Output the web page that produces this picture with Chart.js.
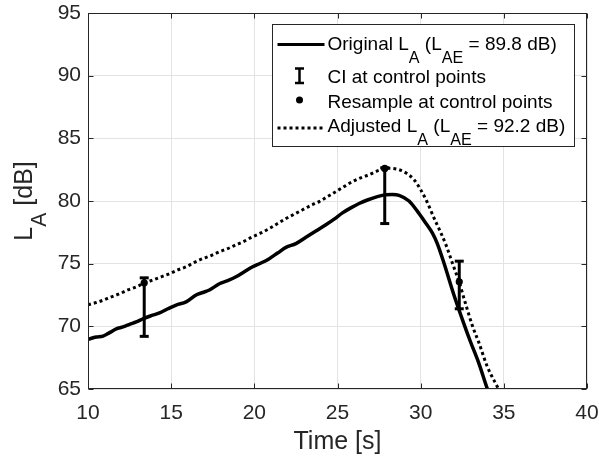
<!DOCTYPE html>
<html><head><meta charset="utf-8">
<script src="https://cdn.jsdelivr.net/npm/chart.js@4.4.1/dist/chart.umd.min.js"></script>
<style>html,body{margin:0;padding:0;background:#fff}#c{display:block}</style>
</head><body>
<canvas id="c" width="599" height="461"></canvas>
<script>
// ---- data ----
const origT = [10.0,10.5,10.9,11.3,11.7,12.1,12.5,12.9,13.3,13.8,14.3,14.8,15.3,15.9,16.5,16.9,17.3,17.9,18.4,18.9,19.4,19.9,20.4,20.9,21.4,21.9,22.5,23.1,23.7,24.3,24.8,25.3,25.8,26.3,26.8,27.4,27.9,28.3,28.7,29.3,29.9,30.3,30.7,31.0,31.4,32.0,32.6,33.0,33.5,34.0,34.3];
const origL = [68.96,69.15,69.22,69.5,69.8,69.95,70.16,70.35,70.6,70.85,71.07,71.4,71.7,71.95,72.5,72.7,72.9,73.4,73.65,73.95,74.35,74.75,75.05,75.4,75.85,76.3,76.6,77.1,77.6,78.1,78.55,79.05,79.45,79.8,80.08,80.35,80.5,80.52,80.45,80.0,79.0,78.25,77.45,76.6,75.05,72.5,70.2,68.75,67.05,65.05,64.0];
const adjT = [10.0,10.5,10.9,11.4,11.9,12.4,12.9,13.4,13.9,14.4,14.9,15.4,15.9,16.4,16.9,17.4,17.9,18.4,18.9,19.4,19.9,20.4,20.9,21.4,21.9,22.4,22.9,23.4,23.9,24.4,24.9,25.4,25.9,26.4,26.9,27.5,28.1,28.7,29.1,29.6,30.0,30.36,30.8,31.2,31.52,31.92,32.32,32.7,33.12,33.5,34.0,34.68,35.0];
const adjL = [71.72,71.9,72.08,72.35,72.6,72.9,73.15,73.45,73.7,73.95,74.2,74.5,74.75,75.1,75.4,75.65,75.95,76.2,76.5,76.8,77.15,77.45,77.8,78.2,78.6,78.95,79.3,79.65,79.95,80.35,80.75,81.15,81.55,81.85,82.1,82.45,82.62,82.5,82.25,81.7,80.9,80.0,78.65,77.5,76.5,75.0,73.5,71.8,70.0,68.7,66.8,65.0,64.1];
const ctrlT = [13.38, 27.84, 32.32];
const resampleL = [73.47, 82.6, 73.55];
const ciLow = [69.2, 78.2, 71.4];
const ciHigh = [73.87, 82.65, 75.2];
const xTicks = [10,15,20,25,30,35,40];
const yTicks = [65,70,75,80,85,90,95];
const xTitle = 'Time [s]';
const yTitleParts = [{t:'L'},{t:'A',sub:true},{t:' [dB]'}];
const legendItems = [
  {kind:'solid', parts:[{t:'Original L'},{t:'A',sub:true},{t:' (L'},{t:'AE',sub:true},{t:' = 89.8 dB)'}]},
  {kind:'ci', parts:[{t:'CI at control points'}]},
  {kind:'dot', parts:[{t:'Resample at control points'}]},
  {kind:'dotted', parts:[{t:'Adjusted L'},{t:'A',sub:true},{t:' (L'},{t:'AE',sub:true},{t:' = 92.2 dB)'}]}
];

const FAMILY = '"Liberation Sans", Arial, Helvetica, sans-serif';
const AX = '#262626';

const toXY = (xs, ys) => xs.map((v,i)=>({x:v, y:ys[i]}));
const ciData = [];
ctrlT.forEach((t,i)=>{ ciData.push({x:t,y:ciLow[i]},{x:t,y:ciHigh[i]},{x:t,y:null}); });

function subSize(s){ return s*0.85; }
function richWidth(ctx, parts, size){
  let w=0; for(const p of parts){ ctx.font=(p.sub?subSize(size):size)+'px '+FAMILY; w+=ctx.measureText(p.t).width; } return w;
}
function drawRich(ctx, parts, x, y, size, off){
  for(const p of parts){ const s=p.sub?subSize(size):size; ctx.font=s+'px '+FAMILY; ctx.fillText(p.t, x, y+(p.sub?off:0)); x+=ctx.measureText(p.t).width; }
}

const framePlugin = {
  id:'frame',
  afterDatasetsDraw(chart){
    const {ctx, chartArea:a, scales:{x,y}} = chart;
    ctx.save();
    ctx.strokeStyle = AX; ctx.lineWidth = 1;
    const L=Math.round(a.left)+0.5, R=Math.round(a.right)-0.5, T=Math.round(a.top)+0.5, B=Math.round(a.bottom)-0.5;
    ctx.strokeRect(L,T,R-L,B-T);
    const tl=5;
    ctx.beginPath();
    xTicks.forEach(v=>{const px=Math.round(x.getPixelForValue(v))+0.5; ctx.moveTo(px,B); ctx.lineTo(px,B-tl); ctx.moveTo(px,T); ctx.lineTo(px,T+tl);});
    yTicks.forEach(v=>{const py=Math.round(y.getPixelForValue(v))+0.5; ctx.moveTo(L,py); ctx.lineTo(L+tl,py); ctx.moveTo(R,py); ctx.lineTo(R-tl,py);});
    ctx.stroke();
    ctx.restore();
  },
  afterDraw(chart){
    const {ctx, chartArea:a} = chart;
    ctx.save();
    // y title
    ctx.fillStyle = AX; ctx.textBaseline='alphabetic'; ctx.textAlign='left';
    const ys = 25;
    ctx.translate(32, (a.top+a.bottom)/2);
    ctx.rotate(-Math.PI/2);
    const w = richWidth(ctx, yTitleParts, ys);
    drawRich(ctx, yTitleParts, -w/2, 0, ys, 14);
    ctx.restore();

    // legend
    ctx.save();
    const bx = a.right-314.5, by = a.top+11.5, bw = 302, bh = 122;
    ctx.fillStyle='#fff'; ctx.fillRect(bx,by,bw,bh);
    ctx.strokeStyle=AX; ctx.lineWidth=1; ctx.strokeRect(bx,by,bw,bh);
    const baselines=[50,83,107.5,132].map(v=>v-13+a.top);
    const sx0=bx+5, sx1=bx+52, cx=bx+27, tx=bx+55;
    ctx.fillStyle='#000'; ctx.strokeStyle='#000'; ctx.textBaseline='alphabetic'; ctx.textAlign='left';
    legendItems.forEach((it,i)=>{
      const bl = baselines[i];
      ctx.save();
      if(it.kind==='solid'){ ctx.lineWidth=3; ctx.beginPath(); ctx.moveTo(sx0,bl-5.5); ctx.lineTo(sx1,bl-5.5); ctx.stroke(); }
      if(it.kind==='dotted'){ ctx.lineWidth=3; ctx.setLineDash([3,3]); ctx.beginPath(); ctx.moveTo(sx0,bl-4); ctx.lineTo(sx1,bl-4); ctx.stroke(); }
      if(it.kind==='ci'){ ctx.lineWidth=2.5; ctx.beginPath(); ctx.moveTo(cx,bl-14.5); ctx.lineTo(cx,bl); ctx.moveTo(cx-4.5,bl-14.5); ctx.lineTo(cx+4.5,bl-14.5); ctx.moveTo(cx-4.5,bl); ctx.lineTo(cx+4.5,bl); ctx.stroke(); }
      if(it.kind==='dot'){ ctx.beginPath(); ctx.arc(cx,bl-7.5,3.5,0,Math.PI*2); ctx.fill(); }
      ctx.restore();
      drawRich(ctx, it.parts, tx, bl, 19, 12.5);
    });
    ctx.restore();
  }
};

const zeroPad = s => { s.paddingTop=0; s.paddingBottom=0; s.paddingLeft=0; s.paddingRight=0; };

new Chart(document.getElementById('c'), {
  type:'line',
  data:{ datasets:[
    {label:'Original', data:toXY(origT,origL), borderColor:'#000', borderWidth:3.5, pointRadius:0, cubicInterpolationMode:'monotone', fill:false, clip:0, order:4},
    {label:'CI', data:ciData, borderColor:'#000', borderWidth:3, pointStyle:'line', pointRadius:4.5, pointBorderWidth:3, pointBorderColor:'#000', spanGaps:false, tension:0, clip:false, order:2},
    {label:'Resample', data:toXY(ctrlT,resampleL), showLine:false, pointStyle:'circle', pointRadius:3.6, pointBackgroundColor:'#000', pointBorderColor:'#000', pointBorderWidth:0, clip:false, order:1},
    {label:'Adjusted', data:toXY(adjT,adjL), borderColor:'#000', borderWidth:3, borderDash:[3,3], borderCapStyle:'butt', pointRadius:0, cubicInterpolationMode:'monotone', fill:false, clip:0, order:3}
  ]},
  options:{
    responsive:false, animation:false, devicePixelRatio:1,
    layout:{padding:{left:0,right:12,top:13,bottom:0}},
    plugins:{legend:{display:false}, tooltip:{enabled:false}},
    events:[],
    scales:{
      x:{type:'linear', min:10, max:40,
        afterBuildTicks:s=>{s.ticks=xTicks.map(v=>({value:v}));},
        afterFit:s=>{s.height=72; zeroPad(s);},
        ticks:{color:AX, font:{family:FAMILY,size:21}, padding:12, maxRotation:0, autoSkip:false},
        grid:{color:'#e3e3e3', drawTicks:false, lineWidth:1},
        border:{display:false},
        title:{display:true, text:xTitle, color:AX, font:{family:FAMILY,size:25}, padding:{top:0,bottom:3.5}}
      },
      y:{type:'linear', min:65, max:95,
        afterBuildTicks:s=>{s.ticks=yTicks.map(v=>({value:v}));},
        afterFit:s=>{s.width=88; zeroPad(s);},
        ticks:{color:AX, font:{family:FAMILY,size:21}, padding:7, autoSkip:false},
        grid:{color:'#e3e3e3', drawTicks:false, lineWidth:1},
        border:{display:false}
      }
    }
  },
  plugins:[framePlugin]
});
</script>
</body></html>
